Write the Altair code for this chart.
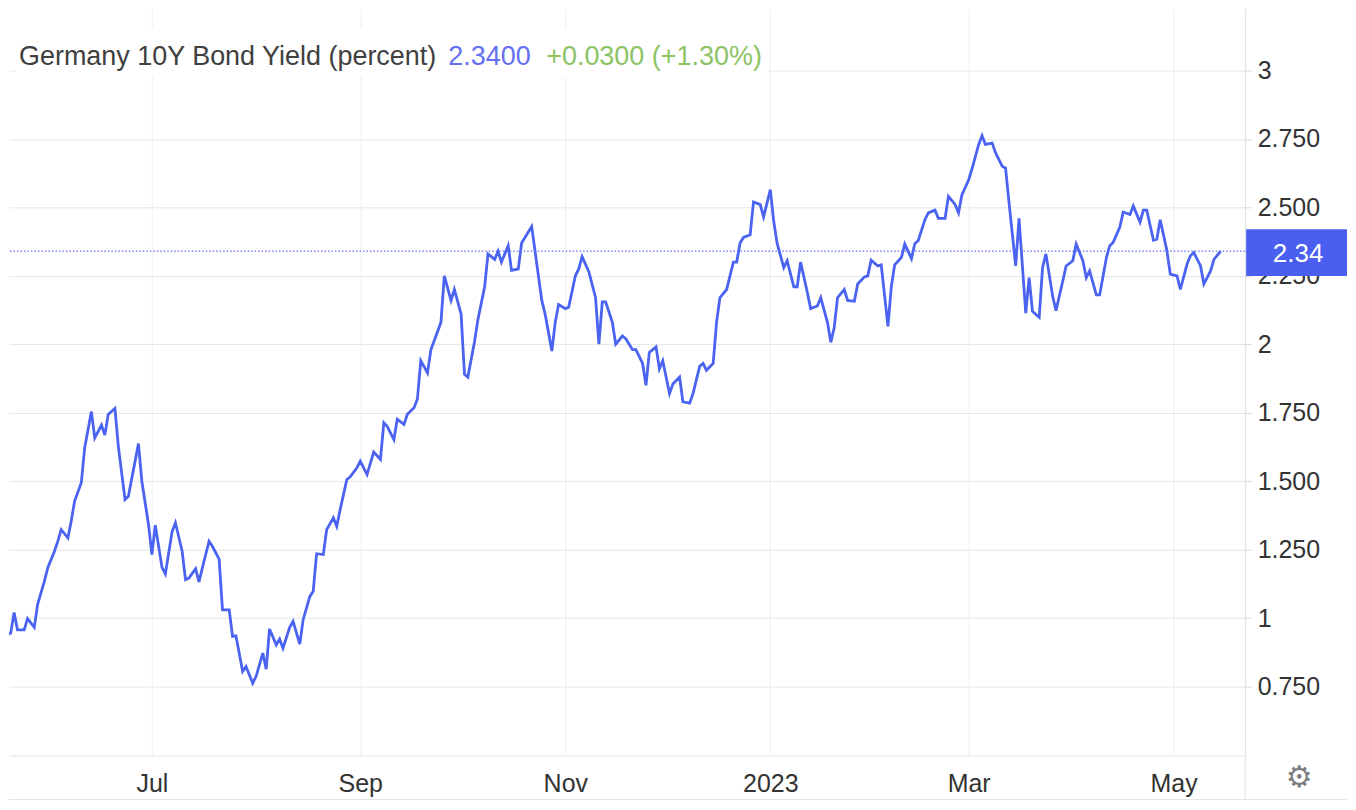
import altair as alt
import pandas as pd

# ---------------- data ----------------
dates = [
    # 2022 May
    "2022-05-18", "2022-05-19", "2022-05-20", "2022-05-21", "2022-05-22", "2022-05-24",
    "2022-05-25", "2022-05-27", "2022-05-28", "2022-05-30", "2022-05-31",
    # Jun
    "2022-06-02", "2022-06-03", "2022-06-04", "2022-06-06", "2022-06-07", "2022-06-08",
    "2022-06-10", "2022-06-11", "2022-06-13", "2022-06-14", "2022-06-16", "2022-06-17",
    "2022-06-18", "2022-06-20", "2022-06-21", "2022-06-23", "2022-06-24", "2022-06-27",
    "2022-06-28", "2022-06-30",
    # Jul
    "2022-07-01", "2022-07-02", "2022-07-04", "2022-07-05", "2022-07-07", "2022-07-08",
    "2022-07-10", "2022-07-11", "2022-07-12", "2022-07-14", "2022-07-15", "2022-07-17",
    "2022-07-18", "2022-07-19", "2022-07-21", "2022-07-22", "2022-07-24", "2022-07-25",
    "2022-07-26", "2022-07-28", "2022-07-29", "2022-07-31",
    # Aug
    "2022-08-01", "2022-08-03", "2022-08-04", "2022-08-05", "2022-08-07", "2022-08-08",
    "2022-08-09", "2022-08-11", "2022-08-12", "2022-08-14", "2022-08-15", "2022-08-17",
    "2022-08-18", "2022-08-19", "2022-08-21", "2022-08-22", "2022-08-24", "2022-08-25",
    "2022-08-26", "2022-08-28", "2022-08-29", "2022-08-31",
    # Sep
    "2022-09-01", "2022-09-03", "2022-09-04", "2022-09-05", "2022-09-07", "2022-09-08",
    "2022-09-09", "2022-09-11", "2022-09-12", "2022-09-14", "2022-09-15", "2022-09-17",
    "2022-09-18", "2022-09-19", "2022-09-21", "2022-09-22", "2022-09-25", "2022-09-26",
    "2022-09-28", "2022-09-29",
    # Oct
    "2022-10-01", "2022-10-02", "2022-10-03", "2022-10-05", "2022-10-06", "2022-10-08",
    "2022-10-09", "2022-10-11", "2022-10-12", "2022-10-13", "2022-10-15", "2022-10-16",
    "2022-10-18", "2022-10-19", "2022-10-20", "2022-10-22", "2022-10-23", "2022-10-25",
    "2022-10-26", "2022-10-28", "2022-10-29", "2022-10-30",
    # Nov
    "2022-11-01", "2022-11-02", "2022-11-04", "2022-11-05", "2022-11-06", "2022-11-08",
    "2022-11-10", "2022-11-11", "2022-11-12", "2022-11-13", "2022-11-15", "2022-11-16",
    "2022-11-18", "2022-11-19", "2022-11-21", "2022-11-22", "2022-11-24", "2022-11-25",
    "2022-11-26", "2022-11-28", "2022-11-29", "2022-11-30",
    # Dec
    "2022-12-02", "2022-12-03", "2022-12-05", "2022-12-06", "2022-12-08", "2022-12-09",
    "2022-12-11", "2022-12-12", "2022-12-13", "2022-12-15", "2022-12-16", "2022-12-17",
    "2022-12-19", "2022-12-21", "2022-12-22", "2022-12-23", "2022-12-24", "2022-12-26",
    "2022-12-27", "2022-12-29", "2022-12-30",
    # 2023 Jan
    "2023-01-01", "2023-01-02", "2023-01-03", "2023-01-05", "2023-01-06", "2023-01-08",
    "2023-01-09", "2023-01-10", "2023-01-12", "2023-01-13", "2023-01-15", "2023-01-16",
    "2023-01-18", "2023-01-19", "2023-01-20", "2023-01-21", "2023-01-23", "2023-01-24",
    "2023-01-26", "2023-01-27", "2023-01-29", "2023-01-30", "2023-01-31",
    # Feb
    "2023-02-02", "2023-02-03", "2023-02-05", "2023-02-06", "2023-02-07", "2023-02-09",
    "2023-02-10", "2023-02-12", "2023-02-13", "2023-02-14", "2023-02-16", "2023-02-17",
    "2023-02-19", "2023-02-20", "2023-02-22", "2023-02-23", "2023-02-25", "2023-02-26",
    "2023-02-27",
    # Mar
    "2023-03-01", "2023-03-02", "2023-03-04", "2023-03-05", "2023-03-06", "2023-03-08",
    "2023-03-09", "2023-03-11", "2023-03-12", "2023-03-13", "2023-03-15", "2023-03-16",
    "2023-03-18", "2023-03-19", "2023-03-20", "2023-03-22", "2023-03-23", "2023-03-24",
    "2023-03-26", "2023-03-27", "2023-03-29", "2023-03-30",
    # Apr
    "2023-04-01", "2023-04-02", "2023-04-04", "2023-04-05", "2023-04-06", "2023-04-08",
    "2023-04-09", "2023-04-11", "2023-04-12", "2023-04-13", "2023-04-15", "2023-04-16",
    "2023-04-18", "2023-04-19", "2023-04-21", "2023-04-22", "2023-04-23", "2023-04-25",
    "2023-04-26", "2023-04-27", "2023-04-29", "2023-04-30",
    # May
    "2023-05-02", "2023-05-03", "2023-05-05", "2023-05-06", "2023-05-07", "2023-05-09",
    "2023-05-10", "2023-05-12", "2023-05-13", "2023-05-15",
]

yields = [
    # 2022 May
    0.976, 0.94, 0.945, 1.02, 0.957, 0.957,
    0.998, 0.966, 1.05, 1.134, 1.183,
    # Jun
    1.244, 1.28, 1.323, 1.293, 1.354, 1.427,
    1.494, 1.622, 1.754, 1.658, 1.705, 1.668,
    1.744, 1.766, 1.628, 1.433, 1.445, 1.637,
    1.50, 1.341,
    # Jul
    1.232, 1.339, 1.185, 1.161, 1.315, 1.348,
    1.244, 1.14, 1.146, 1.18, 1.132, 1.232,
    1.28, 1.262, 1.215, 1.03, 1.03, 0.933,
    0.935, 0.805, 0.823, 0.762,
    # Aug
    0.787, 0.872, 0.813, 0.96, 0.902, 0.923,
    0.89, 0.966, 0.988, 0.905, 0.994, 1.079,
    1.098, 1.235, 1.232, 1.323, 1.366, 1.335,
    1.396, 1.506, 1.516, 1.549,
    # Sep
    1.573, 1.524, 1.565, 1.606, 1.579, 1.713,
    1.70, 1.652, 1.726, 1.707, 1.744, 1.768,
    1.80, 1.94, 1.895, 1.98, 2.08, 2.25,
    2.16, 2.20,
    # Oct
    2.11, 1.89, 1.88, 2.01, 2.09, 2.21,
    2.33, 2.31, 2.34, 2.30, 2.36, 2.27,
    2.275, 2.37, 2.39, 2.43, 2.34, 2.16,
    2.11, 1.975, 2.08, 2.145,
    # Nov
    2.13, 2.135, 2.25, 2.275, 2.32, 2.265,
    2.17, 2.0, 2.155, 2.155, 2.08, 2.0,
    2.03, 2.02, 1.98, 1.98, 1.93, 1.85,
    1.97, 1.99, 1.91, 1.94,
    # Dec
    1.82, 1.855, 1.88, 1.79, 1.785, 1.82,
    1.92, 1.93, 1.905, 1.93, 2.08, 2.17,
    2.20, 2.30, 2.30, 2.37, 2.39, 2.40,
    2.52, 2.51, 2.465,
    # 2023 Jan
    2.565, 2.45, 2.37, 2.28, 2.305, 2.21,
    2.21, 2.30, 2.19, 2.13, 2.14, 2.17,
    2.08, 2.007, 2.06, 2.17, 2.20, 2.16,
    2.157, 2.22, 2.246, 2.25, 2.307,
    # Feb
    2.286, 2.29, 2.065, 2.21, 2.29, 2.317,
    2.366, 2.313, 2.368, 2.378, 2.455, 2.48,
    2.49, 2.46, 2.46, 2.54, 2.51, 2.48,
    2.545,
    # Mar
    2.60, 2.64, 2.73, 2.762, 2.73, 2.735,
    2.70, 2.65, 2.643, 2.52, 2.286, 2.46,
    2.114, 2.243, 2.12, 2.098, 2.28, 2.33,
    2.176, 2.123, 2.23, 2.286,
    # Apr
    2.305, 2.366, 2.305, 2.243, 2.268, 2.18,
    2.18, 2.317, 2.36, 2.372, 2.428, 2.483,
    2.474, 2.505, 2.446, 2.49, 2.49, 2.38,
    2.384, 2.455, 2.342, 2.256,
    # May
    2.25, 2.20, 2.293, 2.323, 2.335, 2.286,
    2.22, 2.268, 2.31, 2.34,
]
assert len(dates) == len(yields), (len(dates), len(yields))

last_value = 2.34
last_label = "2.34"
title_name = "Germany 10Y Bond Yield (percent)"
title_value = "2.3400"
title_change = "+0.0300 (+1.30%)"
y_ticks = [0.75, 1, 1.25, 1.5, 1.75, 2, 2.25, 2.5, 2.75, 3]
x_ticks = [(2022, 7), (2022, 9), (2022, 11), (2023, 1), (2023, 3), (2023, 5)]

# ---------------- styling ----------------
FONT = "Liberation Sans"
LINE = "#4a63f0"
W, H = 1238, 748

df = pd.DataFrame({"date": dates, "yield": yields})

x_scale = alt.Scale(
    type="utc",
    domain=[
        alt.DateTime(year=2022, month=5, date=19, hours=11, minutes=31, utc=True),
        alt.DateTime(year=2023, month=5, date=22, hours=6, minutes=43, utc=True),
    ],
)
y_scale = alt.Scale(domain=[0.498, 3.226], nice=False, zero=False)

x_axis = alt.Axis(
    values=[alt.DateTime(year=yy, month=mm, date=1, utc=True) for yy, mm in x_ticks],
    labelExpr="utcFormat(datum.value, '%m') == '01' ? utcFormat(datum.value, '%Y') : utcFormat(datum.value, '%b')",
    title=None,
    ticks=False,
    tickSize=0,
    labelPadding=16,
    labelFontSize=25,
    labelFont=FONT,
    labelColor="#333333",
    labelFlush=False,
    labelOverlap=False,
    grid=True,
    gridColor="#eeeff4",
    gridWidth=1,
    domainColor="#e3e3e3",
    domainWidth=1,
)
y_axis = alt.Axis(
    orient="right",
    values=y_ticks,
    labelExpr="datum.value == floor(datum.value) ? format(datum.value, 'd') : format(datum.value, '.3f')",
    title=None,
    tickSize=6,
    tickColor="#d6d6d6",
    labelPadding=6,
    labelFontSize=25,
    labelFont=FONT,
    labelColor="#333333",
    labelFlush=False,
    labelOverlap=False,
    grid=True,
    gridColor="#e6e6e6",
    gridWidth=1,
    domainColor="#dcdcdc",
    domainWidth=1,
)

line = alt.Chart(df).mark_line(color=LINE, strokeWidth=2.8, clip=True).encode(
    x=alt.X("date:T", scale=x_scale, axis=x_axis),
    y=alt.Y("yield:Q", scale=y_scale, axis=y_axis),
)

last_df = pd.DataFrame({
    "v": [last_value],
    "top": [last_value + 0.08],
    "bottom": [last_value - 0.091],
    "label": [last_label],
})

dotted = alt.Chart(last_df).mark_rule(
    color="#5a6cf0", strokeDash=[1.5, 2], strokeWidth=1.3
).encode(y=alt.Y("v:Q", scale=y_scale))

title_box = alt.Chart(pd.DataFrame({"a": [0]})).mark_rect(color="white").encode(
    x=alt.value(7), x2=alt.value(760), y=alt.value(20), y2=alt.value(68)
)

def title_part(text, xpos, color):
    return alt.Chart(pd.DataFrame({"t": [text]})).mark_text(
        font=FONT, fontSize=27, color=color, align="left", baseline="alphabetic"
    ).encode(x=alt.value(xpos), y=alt.value(56.5), text="t:N")

t1 = title_part(title_name, 10, "#404040")
t2 = title_part(title_value, 440, "#6470f0")
t3 = title_part(title_change, 538, "#8cc364")

value_box = alt.Chart(last_df).mark_rect(color="#4a5ff0").encode(
    x=alt.value(W + 1), x2=alt.value(W + 102),
    y=alt.Y("top:Q", scale=y_scale), y2="bottom:Q",
)
value_text = alt.Chart(last_df).mark_text(
    font=FONT, fontSize=26, color="white", align="center", baseline="middle", dy=3
).encode(x=alt.value(W + 53), y=alt.Y("v:Q", scale=y_scale), text="label:N")

border_ext = alt.Chart(pd.DataFrame({"a": [0]})).mark_rule(color="#dcdcdc").encode(
    x=alt.value(W), y=alt.value(H), y2=alt.value(H + 44)
)
bottom_line = alt.Chart(pd.DataFrame({"a": [0]})).mark_rule(color="#e3e3e3").encode(
    x=alt.value(0), x2=alt.value(W + 102), y=alt.value(H + 44)
)
gear = alt.Chart(pd.DataFrame({"g": ["\u2699"]})).mark_text(
    font="DejaVu Sans", fontSize=30, color="#7d7d7d", align="center", baseline="middle"
).encode(x=alt.value(W + 54), y=alt.value(H + 23), text="g:N")

chart = alt.layer(
    line, dotted, title_box, t1, t2, t3, value_box, value_text, border_ext, bottom_line, gear
).properties(
    width=W, height=H, padding=0, background="white"
).configure_view(strokeWidth=0)

chart.save("out.html", embed_options={"renderer": "svg", "actions": False})
